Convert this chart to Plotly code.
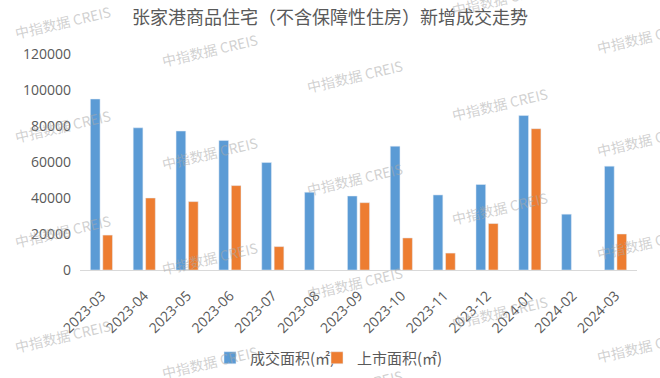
import plotly.graph_objects as go

months = ["2023-03", "2023-04", "2023-05", "2023-06", "2023-07", "2023-08", "2023-09",
          "2023-10", "2023-11", "2023-12", "2024-01", "2024-02", "2024-03"]
deal_area = [95000, 79000, 77200, 72000, 59700, 43200, 41100, 68800, 41700, 47500, 85800, 31000, 57700]
supply_area = [19400, 40000, 38000, 46900, 13000, None, 37400, 17800, 9400, 25800, 78500, None, 20000]

series_names = ["成交面积(㎡)", "上市面积(㎡)"]
title_text = "张家港商品住宅（不含保障性住房）新增成交走势"
watermark_main = "中指数据 CREIS"

# plot area in pixels (for placing watermark annotations)
W, H = 660, 378
L, R, T, B = 80, 23, 54, 108
pw, ph = W - L - R, H - T - B

fig = go.Figure()
fig.add_trace(go.Bar(x=months, y=deal_area, name=series_names[0], marker_color="#5B9BD5",
                     legend="legend"))
fig.add_trace(go.Bar(x=months, y=supply_area, name=series_names[1], marker_color="#ED7D31",
                     legend="legend2"))

# watermark grid (pixel centres)
wm_positions = [
    (63, 22), (63, 126), (63, 231), (63, 336),
    (210, 50), (210, 153), (210, 258), (210, 362),
    (355, 76), (355, 179), (355, 283), (355, 386),
    (500, -1), (500, 104), (500, 208), (500, 312),
    (645, 37), (645, 140), (645, 243), (645, 346),
]
annotations = []
for px, py in wm_positions:
    annotations.append(dict(
        x=(px - L) / pw, y=(H - B - py) / ph, xref="paper", yref="paper",
        text=watermark_main, showarrow=False, textangle=-13,
        font=dict(family="Noto Sans CJK SC", size=14, color="rgba(170,170,170,0.55)"),
        xanchor="center", yanchor="middle",
    ))

legend_font = dict(family="Noto Sans CJK SC", size=15, color="#595959")
leg_y = (H - B - 358) / ph

fig.update_layout(
    width=W, height=H,
    margin=dict(l=L, r=R, t=T, b=B, autoexpand=False),
    paper_bgcolor="white", plot_bgcolor="white",
    title=dict(text=title_text, x=0.5, xref="container", xanchor="center",
               y=1 - 18 / H, yref="container", yanchor="middle",
               font=dict(family="Noto Sans CJK SC", size=18, color="#595959")),
    barmode="group", bargap=0.42, bargroupgap=0.22,
    showlegend=True,
    legend=dict(orientation="h", x=(210 - L) / pw, xanchor="left", y=leg_y, yanchor="middle",
                font=legend_font, bgcolor="rgba(0,0,0,0)"),
    legend2=dict(orientation="h", x=(317 - L) / pw, xanchor="left", y=leg_y, yanchor="middle",
                 font=legend_font, bgcolor="rgba(0,0,0,0)"),
    annotations=annotations,
    xaxis=dict(type="category", tickangle=-45, showline=True, linecolor="#D9D9D9", linewidth=1,
               showgrid=False, ticks="", automargin=False, ticklabelstandoff=11,
               tickfont=dict(family="Open Sans", size=14, color="#595959")),
    yaxis=dict(range=[0, 120000], dtick=20000, showgrid=False, zeroline=False, showline=False,
               ticks="", tickformat="d", ticklabelstandoff=8, automargin=False,
               tickfont=dict(family="Open Sans", size=14, color="#595959")),
)

fig.write_html("out.html", config={"displayModeBar": False},
               post_script="document.body.style.margin='0px';document.body.style.overflow='hidden';")
